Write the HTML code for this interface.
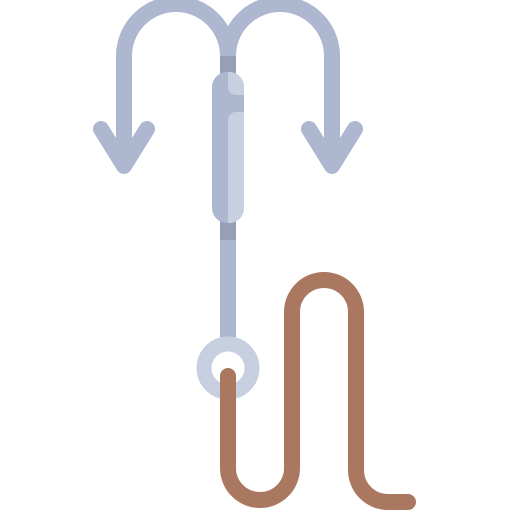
<!DOCTYPE html>
<html><head><meta charset="utf-8"><style>html,body{margin:0;padding:0;background:#fff}svg{display:block}</style></head>
<body>
<svg width="512" height="512" viewBox="0 0 512 512">
  <defs><clipPath id="sc"><rect x="212" y="72" width="32" height="151" rx="15"/></clipPath></defs>
  <g fill="none" stroke="#aeb7d0" stroke-width="16" stroke-linecap="round" stroke-linejoin="round">
    <path d="M124 165 V56 A52 52 0 0 1 228 56"/>
    <path d="M332 165 V56 A52 52 0 0 0 228 56"/>
    <path d="M101 129 L124 166 L147 129"/>
    <path d="M309 129 L332 166 L355 129"/>
  </g>
  <rect x="220" y="56" width="16" height="290" fill="#aeb7d0"/>
  <rect x="220" y="56" width="16" height="20" fill="#979fb6"/>
  <rect x="220" y="218" width="16" height="22" fill="#979fb6"/>
  <rect x="212" y="72" width="32" height="151" rx="15" fill="#aeb7d0"/>
  <g clip-path="url(#sc)">
    <rect x="228" y="112" width="30" height="130" rx="8" fill="#c8cfe0"/>
    <rect x="228" y="60" width="30" height="35" rx="8" fill="#c8cfe0"/>
  </g>
  <circle cx="228" cy="368" r="24" fill="none" stroke="#c8cfe0" stroke-width="15"/>
  <path d="M228 376 V468 A32 32 0 0 0 292 468 V312 A32 32 0 0 1 356 312 V470 A32 32 0 0 0 388 502 H408" fill="none" stroke="#aa7761" stroke-width="16" stroke-linecap="round" stroke-linejoin="round"/>
</svg>
</body></html>
